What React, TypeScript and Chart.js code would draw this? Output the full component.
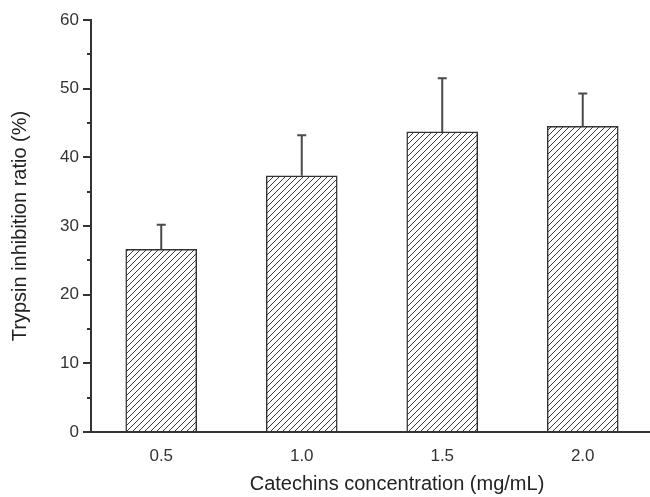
import React, { useEffect, useRef } from "react";
import { Chart, registerables } from "chart.js";

Chart.register(...registerables);

const concentrations = [0.5, 1.0, 1.5, 2.0];
const inhibition = [26.6, 37.3, 43.7, 44.5];
const errors = [3.6, 5.9, 7.8, 4.8];
const yTicks = [0, 10, 20, 30, 40, 50, 60];
const yMinorTicks = [5, 15, 25, 35, 45, 55];
const xMin = 0.25;
const xMax = 2.428;

const FONT = "'Liberation Sans', Arial, sans-serif";

function makeHatch(): CanvasPattern | string {
  const c = document.createElement("canvas");
  c.width = 6;
  c.height = 6;
  const g = c.getContext("2d");
  if (!g) return "#fff";
  g.fillStyle = "#ffffff";
  g.fillRect(0, 0, 6, 6);
  g.strokeStyle = "#3a3a3a";
  g.lineWidth = 1;
  g.beginPath();
  g.moveTo(-1, 7);
  g.lineTo(7, -1);
  g.moveTo(-4, 4);
  g.lineTo(4, -4);
  g.moveTo(2, 10);
  g.lineTo(10, 2);
  g.stroke();
  const p = g.createPattern(c, "repeat");
  return p || "#fff";
}

const errorBarPlugin = {
  id: "errorBars",
  afterDatasetsDraw(chart: any) {
    const ctx = chart.ctx;
    const meta = chart.getDatasetMeta(0);
    const yScale = chart.scales.y;
    ctx.save();
    ctx.strokeStyle = "#4a4a4a";
    ctx.lineWidth = 2;
    meta.data.forEach((bar: any, i: number) => {
      const top = yScale.getPixelForValue(inhibition[i] + errors[i]);
      ctx.beginPath();
      ctx.moveTo(bar.x, bar.y);
      ctx.lineTo(bar.x, top);
      ctx.moveTo(bar.x - 4.5, top);
      ctx.lineTo(bar.x + 4.5, top);
      ctx.stroke();
    });
    ctx.restore();
  },
};

const minorTickPlugin = {
  id: "minorTicks",
  afterDraw(chart: any) {
    const ctx = chart.ctx;
    const yScale = chart.scales.y;
    ctx.save();
    ctx.strokeStyle = "#333";
    ctx.lineWidth = 2;
    yMinorTicks.forEach((v) => {
      const y = Math.round(yScale.getPixelForValue(v));
      ctx.beginPath();
      ctx.moveTo(yScale.right, y);
      ctx.lineTo(yScale.right - 4, y);
      ctx.stroke();
    });
    ctx.restore();
  },
};

export default function App() {
  const ref = useRef<HTMLCanvasElement | null>(null);

  useEffect(() => {
    if (!ref.current) return;
    const hatch = makeHatch();
    const chart = new Chart(ref.current, {
      type: "bar",
      data: {
        datasets: [
          {
            data: concentrations.map((x, i) => ({ x, y: inhibition[i] })),
            backgroundColor: hatch as any,
            borderColor: "#333",
            borderWidth: 1.5,
            barThickness: 71,
          },
        ],
      },
      options: {
        animation: false,
        responsive: false,
        maintainAspectRatio: false,
        layout: { padding: { top: 20, left: 0, right: 0, bottom: 0 } },
        plugins: {
          legend: { display: false },
          tooltip: { enabled: false },
        },
        scales: {
          x: {
            type: "linear",
            offset: false,
            min: xMin,
            max: xMax,
            afterBuildTicks: (scale: any) => {
              scale.ticks = concentrations.map((v) => ({ value: v }));
            },
            afterFit: (scale: any) => {
              scale.height = 65;
            },
            grid: { display: false, offset: false },
            border: { display: true, color: "#333", width: 2 },
            ticks: {
              padding: 6,
              color: "#333",
              font: { family: FONT, size: 17 },
              callback: (v: any) => Number(v).toFixed(1),
            },
            title: {
              display: true,
              text: "Catechins concentration (mg/mL)",
              color: "#222",
              font: { family: FONT, size: 20 },
              padding: { top: 0, bottom: 1 },
            },
          },
          y: {
            min: 0,
            max: 60,
            afterBuildTicks: (scale: any) => {
              scale.ticks = yTicks.map((v) => ({ value: v }));
            },
            afterFit: (scale: any) => {
              scale.width = 91;
            },
            grid: {
              drawOnChartArea: false,
              drawTicks: true,
              tickLength: 8,
              color: "#333",
              lineWidth: 2,
            },
            border: { display: true, color: "#333", width: 2 },
            ticks: {
              padding: 4,
              color: "#333",
              font: { family: FONT, size: 17 },
            },
            title: {
              display: true,
              text: "Trypsin inhibition ratio (%)",
              color: "#222",
              font: { family: FONT, size: 20 },
              padding: { top: 8, bottom: 0 },
            },
          },
        },
      },
      plugins: [errorBarPlugin, minorTickPlugin],
    });
    return () => chart.destroy();
  }, []);

  return (
    <div
      style={{
        position: "fixed",
        left: 0,
        top: 0,
        width: 650,
        height: 497,
        overflow: "hidden",
        background: "#fff",
      }}
    >
      <canvas ref={ref} width={703} height={497} style={{ display: "block" }} />
    </div>
  );
}
